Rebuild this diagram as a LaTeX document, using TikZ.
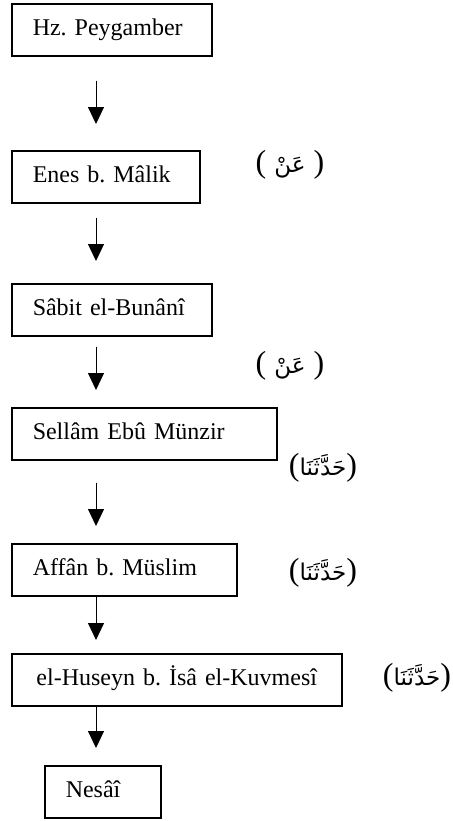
\documentclass[tikz,border=0pt]{standalone}
\usepackage{fontspec}
\setmainfont{Liberation Serif}
\newfontfamily\arabicfont[Script=Arabic, Scale=0.72]{DejaVu Sans}
\TeXXeTstate=1
\frenchspacing
\usetikzlibrary{arrows.meta}
\begin{document}
\begin{tikzpicture}[x=0.5pt, y=-0.5pt,
  ravi/.style={draw, line width=0.75pt, anchor=north west, minimum height=26pt, inner xsep=10.5pt, inner ysep=0pt, align=left, text height=8pt, text depth=2.5pt, font=\fontsize{12}{14}\selectfont},
  pil/.style={-{Triangle[width=8pt, length=8.5pt]}, line width=0.5pt},
  sigha/.style={inner sep=0pt, font=\fontsize{16}{18}\selectfont}]
\useasboundingbox (0,0) rectangle (453,821);
\coordinate (spine) at (96,0);
\node[ravi, text width=79pt] (b1) at (11,3) {Hz. Peygamber};
\node[ravi, text width=73pt] (b2) at (11,150) {Enes b. Mâlik};
\node[ravi, text width=79pt] (b3) at (11,283) {Sâbit el-Bunânî};
\node[ravi, text width=111.5pt] (b4) at (11,407) {Sellâm Ebû Münzir};
\node[ravi, text width=91.5pt] (b5) at (11,543) {Affân b. Müslim};
\node[ravi, text width=144pt, align=center] (b6) at (11,653) {el-Huseyn b. İsâ el-Kuvmesî};
\node[ravi, text width=37pt] (b7) at (44,765) {Nesâî};
\node[sigha] (l1) at (290,165) {( {\arabicfont\beginR عَنْ\endR} )};
\node[sigha] (l2) at (290,366) {( {\arabicfont\beginR عَنْ\endR} )};
\node[sigha] (l3) at (323,468) {({\arabicfont\beginR حَدَّثَنَا\endR})};
\node[sigha] (l4) at (323,573) {({\arabicfont\beginR حَدَّثَنَا\endR})};
\node[sigha] (l5) at (417,678) {({\arabicfont\beginR حَدَّثَنَا\endR})};
\draw[pil, shorten <=12pt, shorten >=13pt] (b1.south -| spine) -- (b2.north -| spine);
\draw[pil, shorten <=7pt, shorten >=11pt] (b2.south -| spine) -- (b3.north -| spine);
\draw[pil, shorten <=5pt, shorten >=8.5pt] (b3.south -| spine) -- (b4.north -| spine);
\draw[pil, shorten <=11pt, shorten >=8.5pt] (b4.south -| spine) -- (b5.north -| spine);
\draw[pil, shorten >=6.5pt] (b5.south -| spine) -- (b6.north -| spine);
\draw[pil, shorten >=8.5pt] (b6.south -| spine) -- (b7.north -| spine);
\end{tikzpicture}
\end{document}
